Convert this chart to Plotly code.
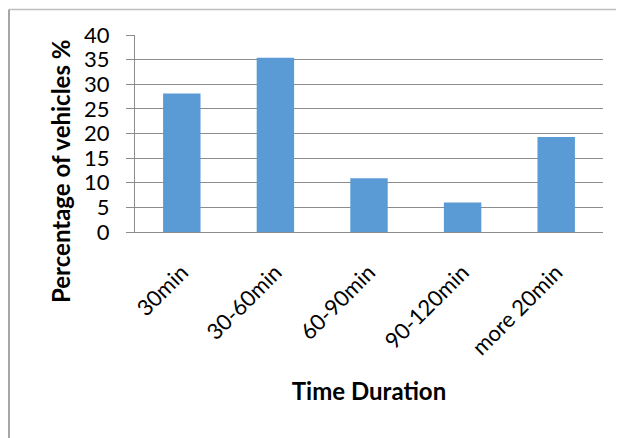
import plotly.graph_objects as go

categories = ["30min", "30-60min", "60-90min", "90-120min", "more 20min"]
values = [28.1, 35.4, 10.9, 6.0, 19.3]
y_ticks = [0, 5, 10, 15, 20, 25, 30, 35, 40]

W, H = 624, 438
FONT = "Lato, Open Sans, sans-serif"
# page body adds an 8px offset; margins compensate for it
L, R, T, B = 127, 29, 27, 214
PW, PH = W - L - R, H - T - B

fig = go.Figure(go.Bar(x=categories, y=values, marker=dict(color="#5B9BD5", line=dict(width=0)),
                       width=0.4))

fig.update_layout(
    width=W, height=H,
    margin=dict(l=L, r=R, t=T, b=B, pad=0),
    paper_bgcolor="white", plot_bgcolor="white",
    font=dict(family=FONT, color="#000000"),
    showlegend=False,
)
fig.update_yaxes(
    automargin=False,
    range=[0, 40], tickvals=y_ticks, ticktext=[str(v) for v in y_ticks],
    showgrid=True, gridcolor="#8C8C8C", gridwidth=1,
    showline=True, linecolor="#8C8C8C", linewidth=1,
    ticks="outside", ticklen=8, tickcolor="#8C8C8C",
    ticklabelstandoff=12,
    tickfont=dict(size=22, family=FONT, color="#000000"),
    zeroline=False,
)
fig.update_xaxes(
    automargin=False,
    showline=True, linecolor="#8C8C8C", linewidth=1,
    tickangle=-45, ticks="", ticklabelstandoff=18,
    tickfont=dict(size=22, family=FONT, color="#000000"),
    title=dict(text="<b>Time Duration</b>", font=dict(size=24, family=FONT), standoff=24),
)
# y-axis title placed like the original (centred lower than the plot area)
fig.add_annotation(text="<b>Percentage of vehicles %</b>", textangle=-90,
                   xref="paper", yref="paper", x=(52 - L) / PW, y=(H - B - 163) / PH,
                   xanchor="center", yanchor="middle", showarrow=False,
                   font=dict(size=24, family=FONT, color="#000000"))
# outer chart border (only top and left edges visible in original)
fig.add_shape(type="line", xref="paper", yref="paper",
              x0=(1 - L) / PW, x1=(W + 10 - L) / PW,
              y0=1 + (T - 1.5) / PH, y1=1 + (T - 1.5) / PH,
              line=dict(color="#BFBFBF", width=1.5), layer="below")
fig.add_shape(type="line", xref="paper", yref="paper",
              x0=(1 - L) / PW, x1=(1 - L) / PW,
              y0=-(B + 10) / PH, y1=1 + (T - 1.5) / PH,
              line=dict(color="#A6A6A6", width=2), layer="below")

fig.write_html("out.html")
